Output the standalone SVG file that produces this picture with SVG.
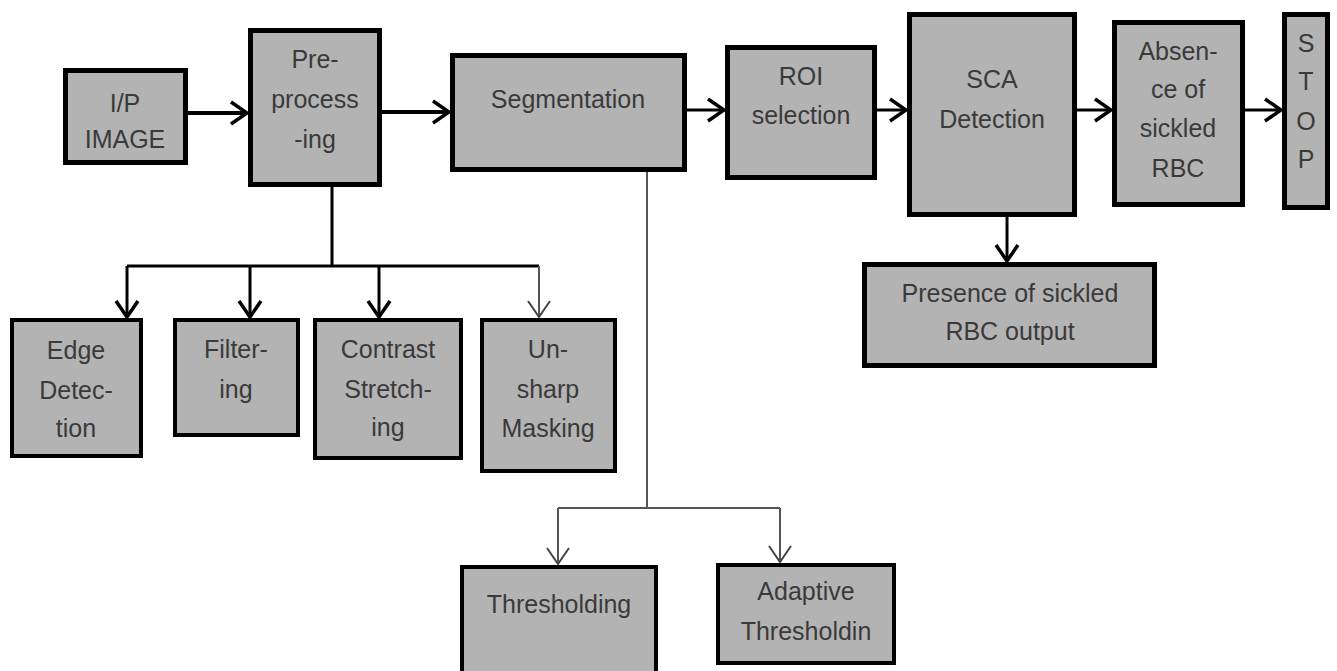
<svg xmlns="http://www.w3.org/2000/svg" width="1337" height="671" viewBox="0 0 1337 671">
<style>
.box{fill:#b3b3b3;stroke:#000;stroke-width:5}
.sbox{fill:#b3b3b3;stroke:#000;stroke-width:4}
.t{font-family:"Liberation Sans",Arial,sans-serif;font-size:25px;fill:#3a3a3a;text-anchor:middle}
.c{fill:none;stroke:#000;stroke-width:3}
.ck{fill:none;stroke:#000;stroke-width:4}
.cg{fill:none;stroke:#555;stroke-width:2}
</style>
<defs>
<marker id="ah" markerUnits="userSpaceOnUse" markerWidth="22" markerHeight="26" refX="19" refY="13" orient="auto">
<path d="M3,2 L19,13 L3,24" fill="none" stroke="#000" stroke-width="3.5"/>
</marker>
<marker id="ahg" markerUnits="userSpaceOnUse" markerWidth="22" markerHeight="26" refX="19" refY="13" orient="auto">
<path d="M3,2 L19,13 L3,24" fill="none" stroke="#444" stroke-width="2"/>
</marker>
</defs>
<rect width="1337" height="671" fill="#fff"/>
<g id="connectors">
<line class="ck" x1="188" y1="113" x2="247" y2="113" marker-end="url(#ah)"/>
<line class="ck" x1="382" y1="112" x2="449" y2="112" marker-end="url(#ah)"/>
<line class="c" x1="687" y1="110" x2="724" y2="110" marker-end="url(#ah)"/>
<line class="c" x1="877" y1="110" x2="906" y2="110" marker-end="url(#ah)"/>
<line class="c" x1="1077" y1="110" x2="1111" y2="110" marker-end="url(#ah)"/>
<line class="c" x1="1245" y1="110" x2="1281" y2="110" marker-end="url(#ah)"/>
<line class="c" x1="1007" y1="217" x2="1007" y2="261" marker-end="url(#ah)"/>
<path class="c" d="M332,187 V266 M127,266 H539"/>
<line class="c" x1="127" y1="266" x2="127" y2="317" marker-end="url(#ah)"/>
<line class="c" x1="250" y1="266" x2="250" y2="317" marker-end="url(#ah)"/>
<line class="c" x1="379" y1="266" x2="379" y2="317" marker-end="url(#ah)"/>
<line class="cg" x1="539" y1="266" x2="539" y2="317" marker-end="url(#ahg)"/>
<path class="cg" d="M647,172 V508 M558,508 H780"/>
<line class="cg" x1="558" y1="508" x2="558" y2="564" marker-end="url(#ahg)"/>
<line class="cg" x1="780" y1="508" x2="780" y2="562" marker-end="url(#ahg)"/>
</g>
<g id="ip"><rect class="box" x="65.5" y="70.5" width="120" height="92"/><text class="t" x="125" y="112">I/P</text><text class="t" x="125" y="148">IMAGE</text></g>
<g id="pre"><rect class="box" x="250.5" y="30.5" width="129" height="154"/><text class="t" x="315" y="68">Pre-</text><text class="t" x="315" y="108">process</text><text class="t" x="315" y="148">-ing</text></g>
<g id="seg"><rect class="box" x="452.5" y="55.5" width="232" height="114"/><text class="t" x="568" y="108">Segmentation</text></g>
<g id="roi"><rect class="box" x="727.5" y="47.5" width="147" height="130"/><text class="t" x="801" y="85">ROI</text><text class="t" x="801" y="124">selection</text></g>
<g id="sca"><rect class="box" x="909.5" y="14.5" width="165" height="200"/><text class="t" x="992" y="88">SCA</text><text class="t" x="992" y="128">Detection</text></g>
<g id="absence"><rect class="box" x="1114.5" y="22.5" width="128" height="182"/><text class="t" x="1178" y="60">Absen-</text><text class="t" x="1178" y="98">ce of</text><text class="t" x="1178" y="137">sickled</text><text class="t" x="1178" y="177">RBC</text></g>
<g id="stop"><rect class="box" x="1284.5" y="14.5" width="43" height="193"/><text class="t" x="1306" y="52">S</text><text class="t" x="1306" y="90">T</text><text class="t" x="1306" y="130">O</text><text class="t" x="1306" y="168">P</text></g>
<g id="presence"><rect class="box" x="864.5" y="264.5" width="290" height="101"/><text class="t" x="1010" y="302">Presence of sickled</text><text class="t" x="1010" y="340">RBC output</text></g>
<g id="edge"><rect class="sbox" x="12" y="320" width="129" height="136"/><text class="t" x="76" y="359">Edge</text><text class="t" x="76" y="399">Detec-</text><text class="t" x="76" y="437">tion</text></g>
<g id="filter"><rect class="sbox" x="175" y="320" width="123" height="115"/><text class="t" x="236" y="358">Filter-</text><text class="t" x="236" y="398">ing</text></g>
<g id="contrast"><rect class="sbox" x="315" y="320" width="146" height="138"/><text class="t" x="388" y="358">Contrast</text><text class="t" x="388" y="398">Stretch-</text><text class="t" x="388" y="436">ing</text></g>
<g id="unsharp"><rect class="sbox" x="482" y="320" width="133" height="151"/><text class="t" x="548" y="358">Un-</text><text class="t" x="548" y="398">sharp</text><text class="t" x="548" y="437">Masking</text></g>
<g id="thresholding"><rect class="sbox" x="462" y="567" width="194" height="110"/><text class="t" x="559" y="613">Thresholding</text></g>
<g id="adaptive"><rect class="sbox" x="718" y="565" width="176" height="98"/><text class="t" x="806" y="600">Adaptive</text><text class="t" x="806" y="640">Thresholdin</text></g>
</svg>
